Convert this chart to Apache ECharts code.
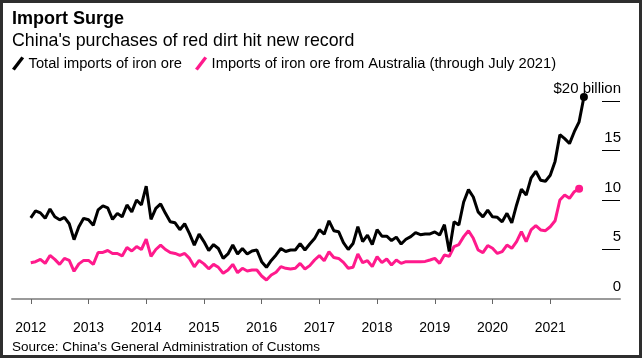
<!DOCTYPE html>
<html>
<head>
<meta charset="utf-8">
<script src="https://cdn.jsdelivr.net/npm/echarts@6/dist/echarts.min.js"></script>
<style>
html,body{margin:0;padding:0;background:#fff;}
#wrap{position:relative;width:642px;height:358px;}
#chart{position:absolute;left:0;top:0;width:642px;height:358px;}
#frame{position:absolute;left:0;top:0;width:642px;height:358px;box-sizing:border-box;border:3px solid #2e2e2e;pointer-events:none;}
</style>
</head>
<body>
<div id="wrap"><div id="chart"></div><div id="frame"></div></div>
<script>
// Monthly values, $ billion, starting January 2012
const totalImports = [
  8.2, 8.9, 8.7, 8.15, 9.1, 8.3, 8.0, 8.25, 7.6, 6.0, 7.3, 8.15,
  8.0, 7.45, 9.0, 9.4, 9.2, 8.05, 8.65, 8.3, 9.5, 8.8, 10.0, 9.5,
  11.4, 8.05, 9.15, 9.6, 8.65, 7.8, 7.7, 7.0, 7.6, 6.6, 5.45, 6.55,
  5.8, 4.9, 5.5, 5.1, 4.1, 4.55, 5.45, 4.55, 5.1, 4.55, 4.85, 4.95,
  3.77, 3.2, 3.9, 4.45, 5.1, 4.8, 4.95, 4.95, 5.6, 4.95, 5.55, 6.1,
  7.0, 6.55, 7.9, 6.9, 6.8, 5.7, 5.0, 5.6, 7.3, 5.8, 6.45, 5.5,
  7.0, 6.35, 6.35, 5.9, 6.25, 5.55, 6.03, 6.3, 6.7, 6.5, 6.57, 6.57,
  6.77, 6.46, 7.5, 4.8, 7.8, 7.47, 9.8, 11.05, 10.3, 8.8, 8.3, 8.97,
  8.3, 8.25, 7.8, 8.65, 7.7, 9.5, 11.1, 10.5, 12.2, 12.9, 12.0, 11.9,
  12.5, 13.9, 16.6, 16.2, 15.7, 16.9, 17.9, 20.4
];
const australiaImports = [
  3.67, 3.77, 4.0, 3.6, 4.4, 4.0, 3.5, 4.1, 3.9, 2.8, 3.55, 3.9,
  3.9, 3.5, 4.7, 4.7, 4.9, 4.6, 4.6, 4.35, 5.2, 4.85, 5.3, 5.0,
  6.05, 4.3, 5.0, 5.45, 5.0, 4.7, 4.6, 4.4, 4.6, 4.1, 3.25, 3.9,
  3.55, 3.05, 3.5, 3.2, 2.6, 2.93, 3.5, 2.66, 3.1, 2.83, 2.93, 2.93,
  2.32, 1.92, 2.42, 2.7, 3.27, 3.1, 3.03, 3.1, 3.6, 3.03, 3.37, 3.94,
  4.38, 3.87, 4.78, 4.2, 4.1, 3.7, 3.1, 3.2, 4.55, 3.67, 3.87, 3.27,
  4.27, 3.67, 4.04, 3.43, 3.94, 3.6, 3.77, 3.77, 3.77, 3.77, 3.8, 3.94,
  4.1, 3.6, 4.44, 4.3, 5.3, 5.5, 6.3, 6.9, 6.13, 4.95, 4.68, 5.4,
  5.12, 4.6, 4.78, 5.45, 5.12, 5.8, 6.8, 5.8, 6.97, 7.4, 6.97, 6.9,
  7.3, 7.9, 10.0, 10.5, 10.17, 10.84, 11.14
];
const startYear = 2012;
const yearLabels = [2012, 2013, 2014, 2015, 2016, 2017, 2018, 2019, 2020, 2021];
const yTicks = [0, 5, 10, 15, 20];
const seriesNames = ['Total imports of iron ore', 'Imports of iron ore from Australia (through July 2021)'];
const titleText = 'Import Surge';
const subtitleText = "China's purchases of red dirt hit new record";
const sourceText = "Source: China's General Administration of Customs";

const FONT = '"Liberation Sans", Arial, sans-serif';
const BLACK = '#000000';
const PINK = '#ff1a8c';

function toPoints(arr) {
  return arr.map(function (v, i) {
    if (i === arr.length - 1) {
      return { value: [i, v], symbol: 'circle', symbolSize: 8 };
    }
    return { value: [i, v], symbol: 'none' };
  });
}

const yearTickValues = yearLabels.map(function (y) { return (y - startYear) * 12; });

const chart = echarts.init(document.getElementById('chart'), null, { renderer: 'canvas' });
chart.setOption({
  animation: false,
  backgroundColor: '#ffffff',
  textStyle: { fontFamily: FONT },
  title: [
    { text: titleText, left: 12, top: 10, padding: 0, textStyle: { fontFamily: FONT, fontSize: 18, fontWeight: 'bold', color: '#000' } },
    { text: subtitleText, left: 12, top: 32, padding: 0, textStyle: { fontFamily: FONT, fontSize: 17.8, fontWeight: 'normal', color: '#000' } },
    { text: sourceText, left: 12, top: 340, padding: 0, textStyle: { fontFamily: FONT, fontSize: 13.5, fontWeight: 'normal', color: '#000' } }
  ],
  legend: {
    left: 12,
    top: 56,
    padding: 0,
    itemWidth: 15,
    itemHeight: 14,
    itemGap: 13,
    icon: 'path://M0,13 L10,0 L13,2 L3,15 Z',
    textStyle: { fontFamily: FONT, fontSize: 14.7, color: '#000', padding: [0, 0, 0, -2] },
    data: [
      { name: seriesNames[0], itemStyle: { color: BLACK } },
      { name: seriesNames[1], itemStyle: { color: PINK } }
    ]
  },
  grid: { left: 12, right: 22, top: 101, bottom: 59, containLabel: false },
  xAxis: {
    type: 'value',
    min: -3.9,
    max: 122.5,
    splitLine: { show: false },
    axisLine: { show: true, onZero: false, lineStyle: { color: '#9a9a9a', width: 2 } },
    axisTick: { show: true, customValues: yearTickValues, length: 5, lineStyle: { color: '#666', width: 1 } },
    axisLabel: {
      show: true,
      customValues: yearTickValues,
      margin: 22,
      fontFamily: FONT,
      fontSize: 14,
      color: '#000',
      formatter: function (v) { return String(startYear + Math.round(v / 12)); }
    }
  },
  yAxis: {
    type: 'value',
    position: 'right',
    min: 0,
    max: 20,
    interval: 5,
    splitLine: { show: false },
    axisLine: { show: false, onZero: false },
    axisTick: { show: true, inside: true, length: 18, customValues: [5, 10, 15, 20], lineStyle: { color: '#000', width: 1 } },
    axisLabel: {
      show: true,
      inside: true,
      customValues: yTicks,
      margin: -1,
      fontFamily: FONT,
      fontSize: 15,
      color: '#000',
      verticalAlign: 'bottom',
      padding: [0, 0, 5, 0],
      formatter: function (v) { return v === 20 ? '$20 billion' : String(v); }
    }
  },
  series: [
    {
      name: seriesNames[1],
      type: 'line',
      data: toPoints(australiaImports),
      showSymbol: true,
      clip: false,
      color: PINK,
      itemStyle: { color: PINK },
      lineStyle: { color: PINK, width: 3 },
      z: 2
    },
    {
      name: seriesNames[0],
      type: 'line',
      data: toPoints(totalImports),
      showSymbol: true,
      clip: false,
      color: BLACK,
      itemStyle: { color: BLACK },
      lineStyle: { color: BLACK, width: 3 },
      z: 3
    }
  ]
});
</script>
</body>
</html>
